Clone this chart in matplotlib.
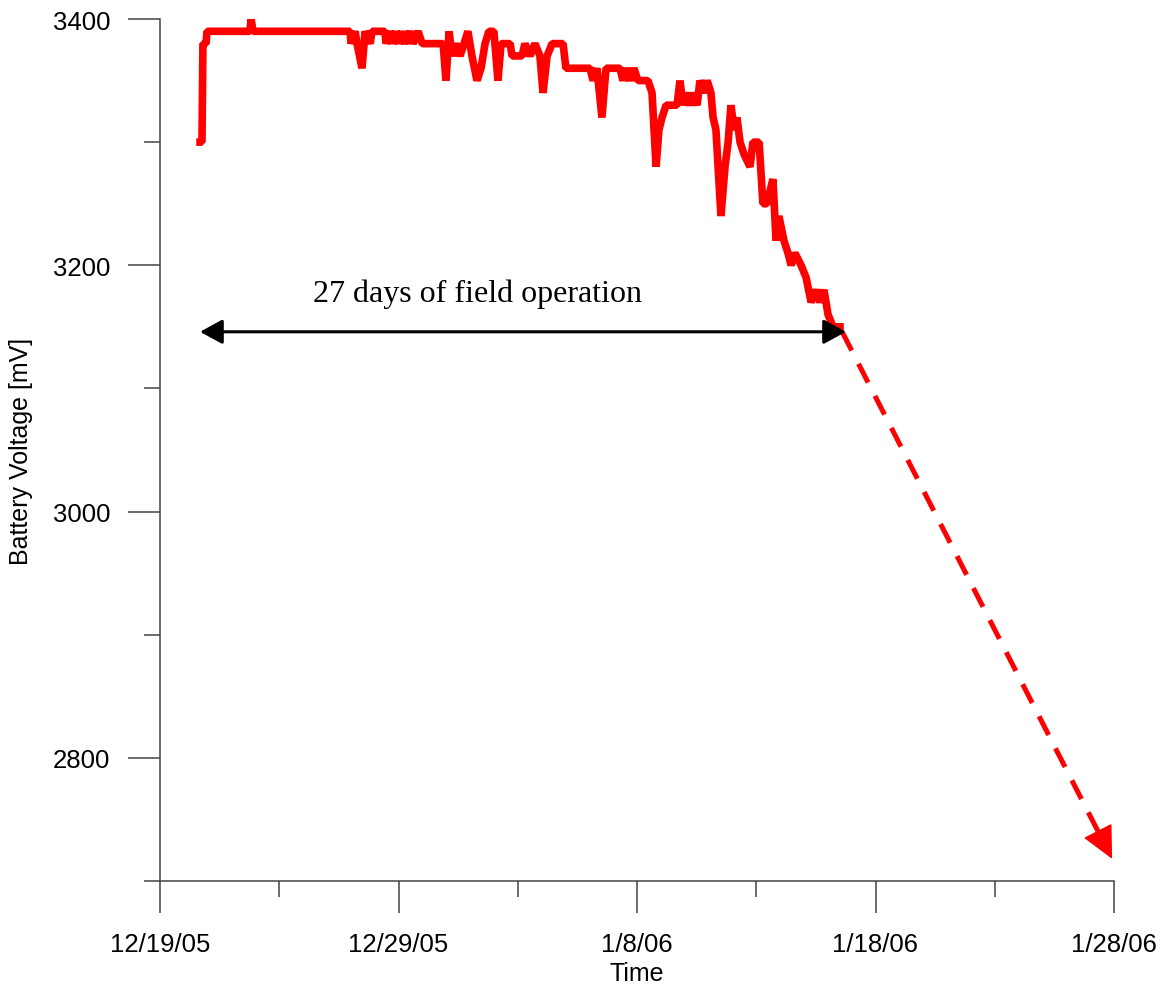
import numpy as np
import matplotlib
matplotlib.use("Agg")
import matplotlib.pyplot as plt
from matplotlib.ticker import FixedLocator

# days since 12/19/05, battery voltage in mV
days = [1.68, 1.76, 1.80, 1.93, 1.97, 3.77, 3.82, 3.90, 7.97, 8.01, 8.18, 8.26,
        8.47, 8.60, 8.81, 8.89, 9.43, 9.48, 9.64, 9.77, 9.90, 10.02, 10.15, 10.27,
        10.48, 10.61, 10.82, 10.99, 11.87, 11.99, 12.12, 12.24, 12.41, 12.58, 12.75,
        12.91, 13.08, 13.29, 13.46, 13.63, 13.79, 14.00, 14.17, 14.30, 14.68, 14.76,
        15.18, 15.30, 15.51, 15.72, 15.93, 16.06, 16.23, 16.44, 16.90, 17.02, 18.03,
        18.16, 18.32, 18.53, 18.70, 19.29, 19.41, 19.54, 19.71, 19.87, 20.04, 20.46,
        20.63, 20.80, 20.92, 21.05, 21.22, 21.68, 21.80, 21.93, 22.05, 22.22, 22.35,
        22.52, 22.64, 22.81, 22.94, 23.10, 23.19, 23.31, 23.52, 23.69, 23.82, 23.94,
        24.07, 24.19, 24.32, 24.49, 24.74, 24.86, 25.12, 25.28, 25.45, 25.70, 25.83,
        25.95, 26.16, 26.33, 26.46, 26.62, 26.88, 27.09, 27.30, 27.51, 27.67, 27.84,
        28.01, 28.22, 28.51]
volts = [3300, 3300, 3380, 3380, 3390, 3390, 3400, 3390, 3390, 3380, 3390, 3380,
         3360, 3390, 3380, 3390, 3390, 3380, 3390, 3380, 3390, 3380, 3390, 3380,
         3390, 3380, 3390, 3380, 3380, 3350, 3390, 3370, 3380, 3370, 3380,
         3390, 3370, 3350, 3360, 3380, 3390, 3390, 3350, 3380, 3380, 3370,
         3370, 3380, 3370, 3380, 3370, 3340, 3370, 3380, 3380, 3360, 3360,
         3350, 3360, 3320, 3360, 3360, 3350, 3360, 3350, 3360, 3350, 3350,
         3340, 3280, 3310, 3320, 3330, 3330, 3350, 3330, 3340, 3330, 3340,
         3330, 3350, 3340, 3350, 3340, 3320, 3310, 3240, 3280, 3300, 3330,
         3310, 3320, 3300, 3290, 3280, 3300, 3300, 3250, 3250, 3270, 3220,
         3240, 3220, 3210, 3200, 3210, 3200, 3190, 3170, 3180, 3170, 3180,
         3160, 3150, 3150]

# annotation: span of field operation and projected decline
span_start, span_end, span_level = 1.68, 28.76, 3146
proj_start = (28.6, 3146)
proj_end = (39.92, 2718)
xtick_labels = ["12/19/05", "12/29/05", "1/8/06", "1/18/06", "1/28/06"]

plt.rcParams['font.family'] = ['Liberation Sans', 'DejaVu Sans']

fig = plt.figure(figsize=(11.65, 9.87), dpi=100)
ax = fig.add_axes([160/1165, 105/987, 954/1165, 862/987])

ax.plot(days, volts, color='#ff0000', lw=5.5, solid_joinstyle='bevel', zorder=3)

# projected decline: dashed line, then a solid head at the end
dx = proj_end[0] - proj_start[0]
dy = proj_end[1] - proj_start[1]
ax.plot([proj_start[0], proj_end[0] - 0.045 * dx],
        [proj_start[1], proj_end[1] - 0.045 * dy],
        color='#ff0000', lw=3.6, dashes=(4.2, 3), zorder=2)
ax.annotate('', xy=proj_end, xytext=(proj_end[0] - 0.06 * dx, proj_end[1] - 0.06 * dy),
            arrowprops=dict(arrowstyle='-|>,head_length=2.1,head_width=1.03',
                            mutation_scale=10, lw=1, color='#ff0000',
                            shrinkA=0, shrinkB=0), zorder=2)

ax.annotate('', xy=(span_start, span_level), xytext=(span_end, span_level),
            arrowprops=dict(arrowstyle='<|-|>,head_length=1.37,head_width=0.75',
                            mutation_scale=10, lw=2.2, color='black',
                            shrinkA=0, shrinkB=0), zorder=4)
ax.text(13.33, 3171, "27 days of field operation", ha='center', va='baseline',
        fontsize=23, family=['Liberation Serif', 'DejaVu Serif'])

ax.set_xlim(0, 40)
ax.set_ylim(2700, 3400)
ax.xaxis.set_major_locator(FixedLocator([0, 10, 20, 30, 40]))
ax.xaxis.set_minor_locator(FixedLocator([5, 15, 25, 35]))
ax.set_xticklabels(xtick_labels)
ax.yaxis.set_major_locator(FixedLocator([2800, 3000, 3200, 3400]))
ax.yaxis.set_minor_locator(FixedLocator([2700, 2900, 3100, 3300]))

for s in ['top', 'right']:
    ax.spines[s].set_visible(False)
for s in ['left', 'bottom']:
    ax.spines[s].set_color('#444444')
    ax.spines[s].set_linewidth(1.1)

ax.tick_params(which='major', direction='out', length=23, width=1.1,
               color='#444444', labelsize=18.5)
ax.tick_params(which='minor', direction='out', length=11.5, width=1.1,
               color='#444444')
ax.tick_params(axis='y', which='major', pad=13)
ax.tick_params(axis='x', which='major', pad=14)

ax.set_ylabel("Battery Voltage [mV]", fontsize=18)
ax.set_xlabel("Time", fontsize=18)
ax.yaxis.set_label_coords(-0.133, 0.5)
ax.xaxis.set_label_coords(0.5, -0.093)

fig.savefig("out.png", dpi=100)
